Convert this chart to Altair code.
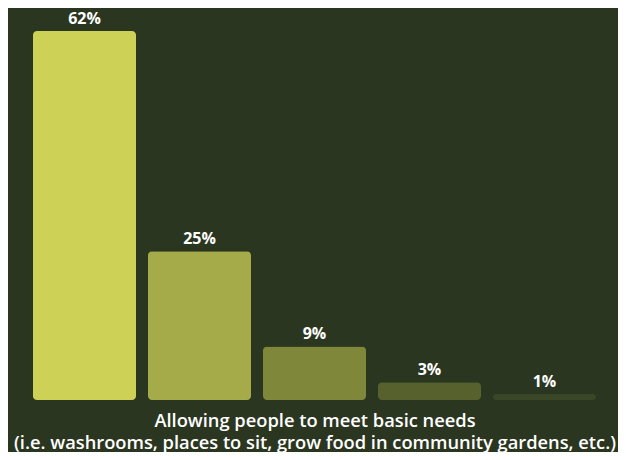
import altair as alt
import pandas as pd

categories = ["Option 1", "Option 2", "Option 3", "Option 4", "Option 5"]
values = [62, 25, 9, 3, 1]
labels = ["62%", "25%", "9%", "3%", "1%"]
colors = ["#cdd257", "#a6ab4a", "#7f873a", "#56612d", "#3a4726"]
title_lines = ["Allowing people to meet basic needs",
               "(i.e. washrooms, places to sit, grow food in community gardens, etc.)"]

df = pd.DataFrame({"cat": categories, "val": values, "label": labels})

x = alt.X("cat:N", sort=categories,
          scale=alt.Scale(paddingInner=0.104, paddingOuter=0.052),
          axis=alt.Axis(labels=False, ticks=False, domain=False, title=title_lines,
                        titleColor="white", titleFontSize=18.3, titleFont="Open Sans",
                        titleFontWeight=600, titlePadding=12, titleLineHeight=22))
y = alt.Y("val:Q", scale=alt.Scale(domain=[0, 62], nice=False), axis=None)

bars = alt.Chart(df).mark_bar(cornerRadius=4).encode(
    x=x, y=y,
    color=alt.Color("cat:N", sort=categories,
                    scale=alt.Scale(domain=categories, range=colors), legend=None),
)
text = alt.Chart(df).mark_text(baseline="alphabetic", dy=-7, color="white", fontSize=16,
                               font="Open Sans", fontWeight="bold").encode(
    x=alt.X("cat:N", sort=categories), y="val:Q", text="label:N")

chart = (bars + text).properties(
    width=575, height=369, background="#2b3621",
    autosize=alt.AutoSizeParams(type="none"),
    padding={"left": 19, "top": 23, "right": 16, "bottom": 52},
).configure_view(stroke=None)

chart.save("out.html", embed_options={"renderer": "svg", "actions": False})
